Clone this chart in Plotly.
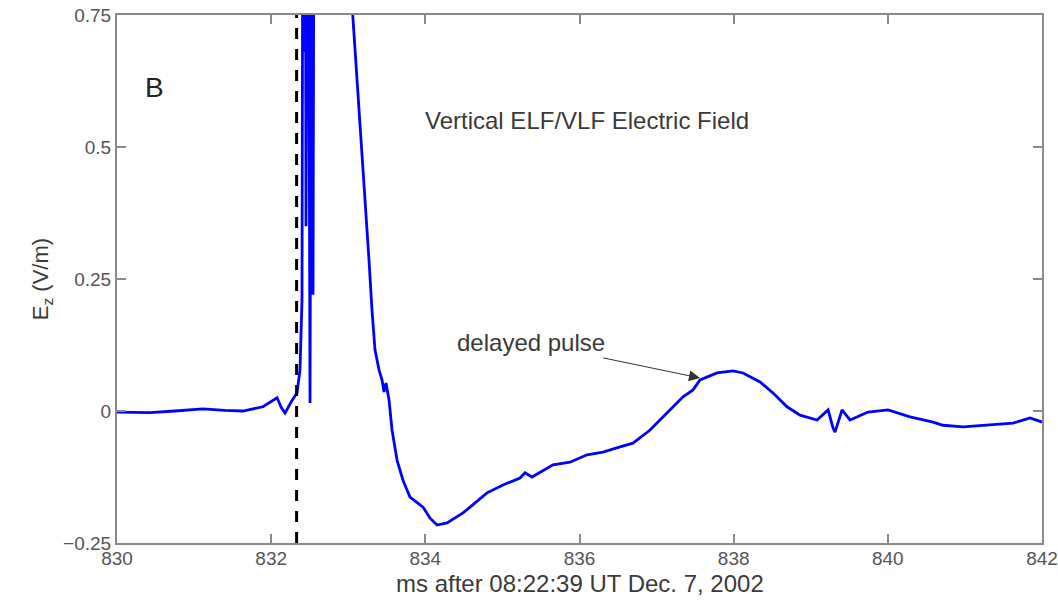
import plotly.graph_objects as go

# ---- data ----
t_ms = [830.000, 830.428, 830.750, 831.116, 831.400, 831.635, 831.894, 832.076, 832.130, 832.180,
        832.270, 832.335, 832.374, 832.400, 832.413, 832.426, 832.439, 832.452, 832.478, 832.504,
        832.530, 832.543, 832.569, 832.763, 833.062, 833.101, 833.153, 833.217, 833.269, 833.308,
        833.347, 833.399, 833.438, 833.464, 833.490, 833.529, 833.568, 833.633, 833.710, 833.801,
        833.892, 833.970, 834.061, 834.152, 834.281, 834.489, 834.580, 834.800, 835.008, 835.228,
        835.293, 835.384, 835.656, 835.877, 836.098, 836.305, 836.526, 836.694, 836.915, 837.135,
        837.343, 837.473, 837.563, 837.784, 837.992, 838.121, 838.342, 838.511, 838.692, 838.861,
        839.082, 839.225, 839.289, 839.315, 839.406, 839.510, 839.743, 840.003, 840.288, 840.586,
        840.716, 840.976, 841.287, 841.624, 841.845, 842.000]
ez_vm = [-0.002, -0.003, 0.000, 0.004, 0.001, 0.000, 0.008, 0.025, 0.007, -0.004,
         0.020, 0.034, 0.078, 0.210, 1.200, 0.680, 1.500, 0.350, 1.400, 0.015,
         1.600, 0.220, 2.000, 1.400, 0.750, 0.665, 0.532, 0.400, 0.286, 0.191,
         0.116, 0.078, 0.059, 0.036, 0.053, 0.021, -0.036, -0.093, -0.131, -0.163,
         -0.174, -0.182, -0.203, -0.216, -0.212, -0.193, -0.182, -0.155, -0.140, -0.127,
         -0.117, -0.125, -0.102, -0.097, -0.083, -0.078, -0.068, -0.061, -0.036, -0.004,
         0.027, 0.040, 0.059, 0.072, 0.076, 0.072, 0.055, 0.034, 0.008, -0.008,
         -0.017, 0.002, -0.032, -0.040, 0.002, -0.017, -0.002, 0.002, -0.011, -0.021,
         -0.027, -0.030, -0.027, -0.023, -0.013, -0.021]

marker_ms = 832.33          # dashed vertical marker
x_ticks = [830, 832, 834, 836, 838, 840, 842]
y_ticks = [-0.25, 0, 0.25, 0.5, 0.75]
y_tick_text = ["\u22120.25", "0", "0.25", "0.5", "0.75"]
pulse_tip = (837.563, 0.0625)
pulse_label = (835.37, 0.129)
x_title = "ms after 08:22:39 UT Dec. 7, 2002"
y_title = "E<sub>z</sub> (V/m)"

TXT = "#3a3a3a"
FONT = "Liberation Sans, Arial, Helvetica, sans-serif"

fig = go.Figure()
fig.add_trace(go.Scatter(x=t_ms, y=ez_vm, mode="lines",
                         line=dict(color="#0000ff", width=2.8),
                         showlegend=False, hoverinfo="skip"))

fig.add_shape(type="line", xref="x", yref="y",
              x0=marker_ms, x1=marker_ms, y0=y_ticks[0], y1=y_ticks[-1],
              line=dict(color="black", width=3, dash="11px,10px"))

axis_common = dict(showline=True, linecolor="#8a8a8a", linewidth=2, mirror="ticks",
                   ticks="inside", ticklen=9, tickwidth=1.5, tickcolor="#8a8a8a",
                   showgrid=False, zeroline=False, automargin=False,
                   ticklabeloverflow="allow",
                   tickfont=dict(family=FONT, size=19, color="#555555"))

fig.update_xaxes(range=[x_ticks[0], x_ticks[-1]], tickvals=x_ticks,
                 ticktext=[str(v) for v in x_ticks], ticklabelstandoff=-3,
                 **axis_common)
fig.update_yaxes(range=[y_ticks[0], y_ticks[-1]], tickvals=y_ticks, ticktext=y_tick_text,
                 title=dict(text=y_title,
                            font=dict(family=FONT, size=22, color=TXT), standoff=8),
                 **axis_common)

# x-axis title placed precisely under the tick labels
fig.add_annotation(x=0.5, y=-0.077, xref="paper", yref="paper", text=x_title,
                   showarrow=False, xanchor="center", yanchor="middle",
                   font=dict(family=FONT, size=24, color=TXT))

fig.add_annotation(x=830.49, y=0.612, xref="x", yref="y", text="B", showarrow=False,
                   font=dict(family=FONT, size=28, color="#222222"))
fig.add_annotation(x=836.10, y=0.551, xref="x", yref="y",
                   text="Vertical ELF/VLF Electric Field", showarrow=False,
                   font=dict(family=FONT, size=24, color=TXT))
fig.add_annotation(x=pulse_tip[0], y=pulse_tip[1], xref="x", yref="y",
                   ax=pulse_label[0], ay=pulse_label[1], axref="x", ayref="y",
                   text="delayed pulse", showarrow=True,
                   arrowhead=2, arrowsize=2.2, arrowwidth=1, arrowcolor="#333333",
                   font=dict(family=FONT, size=24, color=TXT))

fig.update_layout(width=1058, height=601, paper_bgcolor="white", plot_bgcolor="white",
                  margin=dict(l=117, r=16, t=15, b=58))

fig.write_html("out.html")
